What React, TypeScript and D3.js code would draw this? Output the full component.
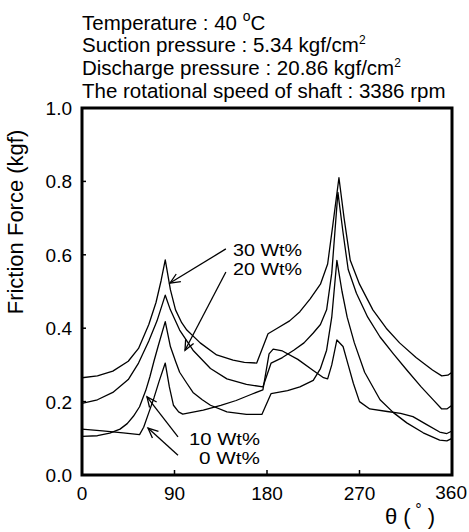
import React from "react";
import * as d3 from "d3";

const thetaTicks = [0, 90, 180, 270, 360];
const forceTicks = [0, 0.2, 0.4, 0.6, 0.8, 1.0];

const wt30: [number, number][] = [
  [0, 0.265], [15, 0.27], [30, 0.283], [45, 0.31], [55, 0.345], [65, 0.41], [72, 0.47], [77, 0.53], [81, 0.586],
  [86, 0.505], [91, 0.45], [97, 0.415], [102, 0.395], [115, 0.36], [131, 0.327], [147, 0.313], [158, 0.307], [170, 0.305],
  [181, 0.385], [190, 0.4], [202, 0.42], [212, 0.445], [222, 0.48], [232, 0.52], [239, 0.575], [244, 0.68], [250, 0.81],
  [255, 0.7], [261, 0.585], [270, 0.52], [283, 0.45], [296, 0.4], [309, 0.36], [325, 0.32], [341, 0.286], [350, 0.27],
  [356, 0.272], [360, 0.28],
];
const wt20: [number, number][] = [
  [0, 0.195], [15, 0.205], [30, 0.225], [45, 0.26], [55, 0.305], [65, 0.365], [73, 0.42], [81, 0.49], [86, 0.45],
  [95, 0.395], [108, 0.34], [125, 0.29], [141, 0.262], [160, 0.247], [176, 0.24], [184, 0.305], [195, 0.32], [206, 0.34],
  [216, 0.36], [225, 0.387], [232, 0.41], [238, 0.45], [243, 0.55], [249, 0.77], [254, 0.66], [259, 0.56], [267, 0.495],
  [278, 0.43], [290, 0.376], [303, 0.33], [316, 0.286], [330, 0.24], [342, 0.204], [350, 0.18], [355, 0.18], [360, 0.19],
];
const wt10: [number, number][] = [
  [0, 0.105], [15, 0.107], [27, 0.114], [37, 0.125], [44, 0.14], [50, 0.16], [56, 0.186], [62, 0.23], [66, 0.267],
  [70, 0.31], [74, 0.35], [81, 0.418], [86, 0.35], [91, 0.31], [95, 0.28], [102, 0.25], [108, 0.225], [117, 0.205],
  [125, 0.19], [141, 0.172], [160, 0.165], [175, 0.165], [184, 0.222], [200, 0.23], [212, 0.24], [225, 0.258],
  [232, 0.29], [238, 0.34], [243, 0.43], [248, 0.585], [253, 0.5], [258, 0.43], [265, 0.36], [275, 0.28], [290, 0.205],
  [303, 0.17], [316, 0.142], [332, 0.115], [348, 0.095], [355, 0.093], [360, 0.1],
];
const wt0: [number, number][] = [
  [0, 0.125], [20, 0.12], [40, 0.115], [56, 0.11], [60, 0.13], [65, 0.17], [70, 0.21], [75, 0.255], [81, 0.305],
  [85, 0.24], [89, 0.19], [94, 0.172], [98, 0.166], [118, 0.177], [135, 0.19], [150, 0.203], [165, 0.22], [176, 0.232],
  [182, 0.33], [186, 0.343], [195, 0.338], [210, 0.315], [225, 0.285], [235, 0.265], [239, 0.262], [243, 0.3],
  [248, 0.368], [254, 0.35], [259, 0.3], [264, 0.25], [270, 0.2], [280, 0.18], [297, 0.173], [310, 0.168], [322, 0.159],
  [335, 0.138], [348, 0.117], [355, 0.113], [360, 0.12],
];

const seriesList = [wt30, wt20, wt10, wt0];

// annotation labels: text, anchor, label position (theta, force), arrow tail, arrow head
const annotations = [
  { text: "30 Wt%", anchor: "start", lx: 147, ly: 0.597, tx: 140, ty: 0.616, hx: 85.6, hy: 0.523, len: 69 },
  { text: "20 Wt%", anchor: "start", lx: 147, ly: 0.546, tx: 140, ty: 0.553, hx: 100.2, hy: 0.34, len: 69 },
  { text: "10 Wt%", anchor: "end", lx: 173.2, ly: 0.082, tx: 93.4, ty: 0.104, hx: 63.2, hy: 0.213, len: 71 },
  { text: "0 Wt%", anchor: "end", lx: 173.2, ly: 0.031, tx: 93.4, ty: 0.054, hx: 64.2, hy: 0.128, len: 61 },
];

const FONT = "'Liberation Sans', Arial, Helvetica, sans-serif";

export default function App() {
  const W = 469, H = 532;
  const left = 82, right = 452, top = 108, bottom = 475;
  const x = d3.scaleLinear().domain([0, 360]).range([left, right]);
  const y = d3.scaleLinear().domain([0, 1]).range([bottom, top]);
  const line = d3.line<[number, number]>().x(d => x(d[0])).y(d => y(d[1])).curve(d3.curveLinear);

  const arrowHead = (tx: number, ty: number, hx: number, hy: number) => {
    const ang = Math.atan2(hy - ty, hx - tx);
    const L = 11, a = 0.42;
    const p1 = [hx - L * Math.cos(ang - a), hy - L * Math.sin(ang - a)];
    const p2 = [hx - L * Math.cos(ang + a), hy - L * Math.sin(ang + a)];
    return `M${p1[0]},${p1[1]}L${hx},${hy}L${p2[0]},${p2[1]}`;
  };

  return (
    <svg width={W} height={H} style={{ position: "absolute", left: 0, top: 0, background: "#fff" }} fontFamily={FONT}>
      <rect x={0} y={0} width={W} height={H} fill="#fff" />
      {/* header */}
      <g fontSize={20.5} fill="#000">
        <text x={82} y={30}>Temperature : 40 <tspan dy={-9} fontSize={14}>o</tspan><tspan dy={9}>C</tspan></text>
        <text x={82} y={52}>Suction pressure : 5.34 kgf/cm<tspan dy={-8} fontSize={12}>2</tspan></text>
        <text x={82} y={75}>Discharge pressure : 20.86 kgf/cm<tspan dy={-8} fontSize={12}>2</tspan></text>
        <text x={82} y={98}>The rotational speed of shaft : 3386 rpm</text>
      </g>

      {/* curves */}
      <g fill="none" stroke="#000" strokeWidth={1.3} strokeLinejoin="round">
        {seriesList.map((s, i) => <path key={i} d={line(s) || ""} />)}
      </g>

      {/* annotations */}
      <g fontSize={16.5} fill="#000">
        {annotations.map((a, i) => (
          <g key={i}>
            <text x={x(a.lx)} y={y(a.ly)} textAnchor={a.anchor as any} textLength={a.len} lengthAdjust="spacingAndGlyphs">{a.text}</text>
            <line x1={x(a.tx)} y1={y(a.ty)} x2={x(a.hx)} y2={y(a.hy)} stroke="#000" strokeWidth={1.3} />
            <path d={arrowHead(x(a.tx), y(a.ty), x(a.hx), y(a.hy))} fill="none" stroke="#000" strokeWidth={1.3} />
          </g>
        ))}
      </g>

      {/* frame */}
      <rect x={left} y={top} width={right - left} height={bottom - top} fill="none" stroke="#000" strokeWidth={3} />

      {/* ticks */}
      <g stroke="#000" strokeWidth={1.5}>
        {thetaTicks.slice(1, -1).map(t => (
          <line key={t} x1={x(t)} x2={x(t)} y1={bottom} y2={bottom - 5} />
        ))}
        {forceTicks.slice(1, -1).map(t => (
          <line key={t} x1={left} x2={left + 4} y1={y(t)} y2={y(t)} />
        ))}
      </g>

      {/* tick labels */}
      <g fontSize={19} fill="#000">
        {forceTicks.map(t => (
          <text key={t} x={left - 10} y={y(t) + 7} textAnchor="end">{t.toFixed(1)}</text>
        ))}
        {thetaTicks.map((t, i) => (
          i === thetaTicks.length - 1
            ? <text key={t} x={467} y={499} textAnchor="end">{t}</text>
            : <text key={t} x={x(t)} y={500} textAnchor="middle">{t}</text>
        ))}
      </g>

      {/* axis titles */}
      <text transform="translate(23,222) rotate(-90)" textAnchor="middle" fontSize={22} fill="#000">Friction Force (kgf)</text>
      <text x={410} y={524} textAnchor="middle" fontSize={22} fill="#000">
        θ (<tspan dy={-9} fontSize={16}> °</tspan><tspan dy={9}> )</tspan>
      </text>
    </svg>
  );
}
